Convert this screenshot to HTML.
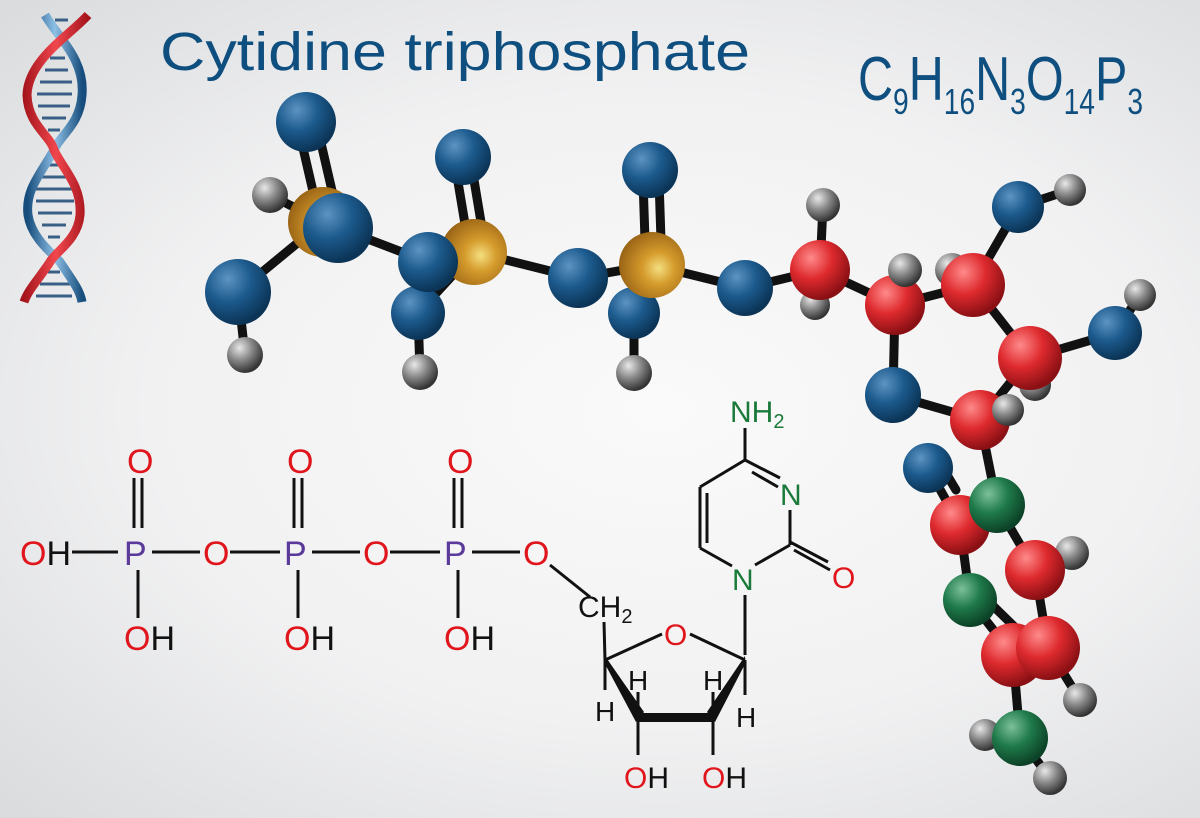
<!DOCTYPE html>
<html><head><meta charset="utf-8"><style>
html,body{margin:0;padding:0}
body{width:1200px;height:818px;overflow:hidden;background:radial-gradient(ellipse at 55% 50%,#fafafa 0%,#f1f1f2 55%,#d9dbdd 100%)}
svg{display:block}
.t{font-family:"Liberation Sans",sans-serif}
</style></head><body>
<svg width="1200" height="818" viewBox="0 0 1200 818" xmlns="http://www.w3.org/2000/svg">
<defs>
<radialGradient id="gb" cx="35%" cy="30%" r="70%"><stop offset="0" stop-color="#5d94c2"/><stop offset="0.5" stop-color="#1c5a8d"/><stop offset="1" stop-color="#0b3456"/></radialGradient>
<radialGradient id="go" cx="60%" cy="55%" r="70%"><stop offset="0" stop-color="#f4df80"/><stop offset="0.35" stop-color="#d59b2c"/><stop offset="1" stop-color="#8a5510"/></radialGradient>
<radialGradient id="gr" cx="35%" cy="30%" r="70%"><stop offset="0" stop-color="#ff8a8a"/><stop offset="0.5" stop-color="#de2a2e"/><stop offset="1" stop-color="#8a1014"/></radialGradient>
<radialGradient id="gg" cx="35%" cy="30%" r="70%"><stop offset="0" stop-color="#7cc09a"/><stop offset="0.5" stop-color="#1f7a4a"/><stop offset="1" stop-color="#0c4227"/></radialGradient>
<radialGradient id="gh" cx="35%" cy="30%" r="70%"><stop offset="0" stop-color="#e8e8e8"/><stop offset="0.5" stop-color="#888"/><stop offset="1" stop-color="#333"/></radialGradient>
<linearGradient id="dr" x1="0" x2="1"><stop offset="0" stop-color="#a5141c"/><stop offset="0.5" stop-color="#f0474d"/><stop offset="1" stop-color="#a5141c"/></linearGradient>
<linearGradient id="db" x1="0" x2="1"><stop offset="0" stop-color="#174d7c"/><stop offset="0.5" stop-color="#8ec0e6"/><stop offset="1" stop-color="#174d7c"/></linearGradient>
</defs>

<!-- DNA -->
<g stroke-width="3" stroke="#3a5f86">
<line x1="55" y1="20" x2="68" y2="20"/><line x1="50" y1="58" x2="65" y2="58"/><line x1="45" y1="70" x2="68" y2="70"/><line x1="40" y1="82" x2="72" y2="82"/><line x1="37" y1="94" x2="72" y2="94"/><line x1="38" y1="106" x2="70" y2="106"/><line x1="42" y1="118" x2="66" y2="118"/><line x1="48" y1="130" x2="60" y2="130"/>
<line x1="48" y1="165" x2="60" y2="165"/><line x1="40" y1="177" x2="70" y2="177"/><line x1="36" y1="189" x2="74" y2="189"/><line x1="36" y1="201" x2="74" y2="201"/><line x1="38" y1="213" x2="72" y2="213"/><line x1="42" y1="225" x2="66" y2="225"/><line x1="48" y1="237" x2="60" y2="237"/>
<line x1="48" y1="272" x2="60" y2="272"/><line x1="40" y1="284" x2="70" y2="284"/><line x1="36" y1="296" x2="72" y2="296"/>
</g>
<path d="M45,15 C60,40 85,60 82,95 C80,125 60,135 54,150 C40,175 25,190 28,215 C32,240 55,255 60,262 C72,280 80,290 82,302" fill="none" stroke="url(#db)" stroke-width="9"/>
<path d="M88,15 C70,35 28,60 27,95 C28,125 50,135 54,150 C62,168 82,185 80,215 C78,240 55,252 50,262 C38,280 28,290 24,302" fill="none" stroke="url(#dr)" stroke-width="9"/>

<!-- Title -->
<text x="160" y="70" class="t" font-size="54" fill="#0f4f80" textLength="590" lengthAdjust="spacingAndGlyphs">Cytidine triphosphate</text>
<text x="858" y="100" class="t" font-size="62" fill="#0f4f80" textLength="285" lengthAdjust="spacingAndGlyphs">C<tspan font-size="36" dy="14">9</tspan><tspan dy="-14">H</tspan><tspan font-size="36" dy="14">16</tspan><tspan dy="-14">N</tspan><tspan font-size="36" dy="14">3</tspan><tspan dy="-14">O</tspan><tspan font-size="36" dy="14">14</tspan><tspan dy="-14">P</tspan><tspan font-size="36" dy="14">3</tspan></text>

<!-- Bonds ball-and-stick -->
<g stroke="#111" stroke-width="9" stroke-linecap="round" fill="none">
<line x1="300" y1="135" x2="315" y2="200"/><line x1="318" y1="130" x2="333" y2="195"/>
<line x1="270" y1="195" x2="323" y2="222"/><line x1="238" y1="292" x2="323" y2="222"/><line x1="238" y1="292" x2="245" y2="355"/>
<line x1="323" y1="222" x2="428" y2="262"/><line x1="428" y1="262" x2="474" y2="252"/>
<line x1="456" y1="170" x2="466" y2="230"/><line x1="472" y1="168" x2="482" y2="228"/>
<line x1="474" y1="252" x2="418" y2="313"/><line x1="418" y1="313" x2="420" y2="372"/>
<line x1="474" y1="252" x2="578" y2="278"/><line x1="578" y1="278" x2="652" y2="265"/>
<line x1="643" y1="180" x2="645" y2="240"/><line x1="659" y1="180" x2="661" y2="240"/>
<line x1="652" y1="265" x2="634" y2="313"/><line x1="634" y1="313" x2="634" y2="373"/>
<line x1="652" y1="265" x2="745" y2="288"/><line x1="745" y1="288" x2="820" y2="270"/>
<line x1="820" y1="270" x2="823" y2="205"/><line x1="820" y1="270" x2="815" y2="305"/><line x1="820" y1="270" x2="895" y2="305"/>
<line x1="895" y1="305" x2="905" y2="270"/><line x1="895" y1="305" x2="893" y2="395"/><line x1="893" y1="395" x2="980" y2="420"/>
<line x1="895" y1="305" x2="973" y2="285"/><line x1="973" y1="285" x2="952" y2="270"/><line x1="973" y1="285" x2="1018" y2="207"/><line x1="1018" y1="207" x2="1070" y2="190"/>
<line x1="973" y1="285" x2="1030" y2="358"/><line x1="1030" y1="358" x2="1115" y2="333"/><line x1="1115" y1="333" x2="1140" y2="295"/>
<line x1="1030" y1="358" x2="1035" y2="385"/><line x1="1030" y1="358" x2="980" y2="420"/><line x1="980" y1="420" x2="1008" y2="410"/>
<line x1="980" y1="420" x2="997" y2="505"/><line x1="997" y1="505" x2="960" y2="525"/><line x1="960" y1="525" x2="928" y2="468"/>
<line x1="944" y1="470" x2="956" y2="490"/>
<line x1="997" y1="505" x2="1035" y2="570"/><line x1="1035" y1="570" x2="1072" y2="553"/><line x1="960" y1="525" x2="970" y2="600"/>
<line x1="970" y1="600" x2="1013" y2="655"/><line x1="985" y1="598" x2="1028" y2="640"/><line x1="1035" y1="570" x2="1048" y2="648"/>
<line x1="1048" y1="648" x2="1080" y2="700"/><line x1="1013" y1="655" x2="1020" y2="738"/><line x1="1020" y1="738" x2="985" y2="735"/><line x1="1020" y1="738" x2="1050" y2="778"/>
</g>

<!-- Atoms -->
<g>
<circle cx="270" cy="195" r="18" fill="url(#gh)"/>
<circle cx="306" cy="122" r="30" fill="url(#gb)"/>
<circle cx="323" cy="222" r="35" fill="url(#go)"/>
<circle cx="338" cy="228" r="35" fill="url(#gb)"/>
<circle cx="245" cy="355" r="18" fill="url(#gh)"/>
<circle cx="238" cy="292" r="33" fill="url(#gb)"/>
<circle cx="463" cy="157" r="28" fill="url(#gb)"/>
<circle cx="420" cy="372" r="18" fill="url(#gh)"/>
<circle cx="418" cy="313" r="27" fill="url(#gb)"/>
<circle cx="474" cy="252" r="33" fill="url(#go)"/>
<circle cx="428" cy="262" r="30" fill="url(#gb)"/>
<circle cx="578" cy="278" r="30" fill="url(#gb)"/>
<circle cx="650" cy="170" r="28" fill="url(#gb)"/>
<circle cx="634" cy="373" r="18" fill="url(#gh)"/>
<circle cx="634" cy="313" r="26" fill="url(#gb)"/>
<circle cx="652" cy="265" r="33" fill="url(#go)"/>
<circle cx="745" cy="288" r="28" fill="url(#gb)"/>
<circle cx="823" cy="205" r="17" fill="url(#gh)"/>
<circle cx="815" cy="305" r="15" fill="url(#gh)"/>
<circle cx="820" cy="270" r="30" fill="url(#gr)"/>
<circle cx="893" cy="395" r="28" fill="url(#gb)"/>
<circle cx="895" cy="305" r="30" fill="url(#gr)"/>
<circle cx="905" cy="270" r="17" fill="url(#gh)"/>
<circle cx="952" cy="270" r="17" fill="url(#gh)"/>
<circle cx="1070" cy="190" r="16" fill="url(#gh)"/>
<circle cx="1018" cy="207" r="26" fill="url(#gb)"/>
<circle cx="973" cy="285" r="32" fill="url(#gr)"/>
<circle cx="1140" cy="295" r="16" fill="url(#gh)"/>
<circle cx="1115" cy="333" r="27" fill="url(#gb)"/>
<circle cx="1035" cy="385" r="16" fill="url(#gh)"/>
<circle cx="1030" cy="358" r="32" fill="url(#gr)"/>
<circle cx="980" cy="420" r="30" fill="url(#gr)"/>
<circle cx="1008" cy="410" r="16" fill="url(#gh)"/>
<circle cx="928" cy="468" r="25" fill="url(#gb)"/>
<circle cx="960" cy="525" r="30" fill="url(#gr)"/>
<circle cx="997" cy="505" r="28" fill="url(#gg)"/>
<circle cx="1072" cy="553" r="17" fill="url(#gh)"/>
<circle cx="1035" cy="570" r="30" fill="url(#gr)"/>
<circle cx="970" cy="600" r="27" fill="url(#gg)"/>
<circle cx="1013" cy="655" r="32" fill="url(#gr)"/>
<circle cx="1048" cy="648" r="32" fill="url(#gr)"/>
<circle cx="1080" cy="700" r="17" fill="url(#gh)"/>
<circle cx="985" cy="735" r="16" fill="url(#gh)"/>
<circle cx="1020" cy="738" r="28" fill="url(#gg)"/>
<circle cx="1050" cy="778" r="17" fill="url(#gh)"/>
</g>

<!-- Structural formula -->
<g stroke="#111" stroke-width="3" fill="none">
<line x1="72" y1="552" x2="118" y2="552"/><line x1="152" y1="552" x2="200" y2="552"/><line x1="230" y1="552" x2="280" y2="552"/>
<line x1="312" y1="552" x2="360" y2="552"/><line x1="390" y1="552" x2="440" y2="552"/><line x1="472" y1="552" x2="520" y2="552"/>
<line x1="134" y1="478" x2="134" y2="528"/><line x1="142" y1="478" x2="142" y2="528"/><line x1="138" y1="570" x2="138" y2="618"/>
<line x1="294" y1="478" x2="294" y2="528"/><line x1="302" y1="478" x2="302" y2="528"/><line x1="298" y1="570" x2="298" y2="618"/>
<line x1="454" y1="478" x2="454" y2="528"/><line x1="462" y1="478" x2="462" y2="528"/><line x1="458" y1="570" x2="458" y2="618"/>
<line x1="550" y1="565" x2="590" y2="597"/>
<line x1="604" y1="622" x2="605" y2="660"/>
<line x1="605" y1="660" x2="662" y2="634"/><line x1="690" y1="634" x2="745" y2="660"/>
<line x1="605" y1="660" x2="605" y2="690"/><line x1="745" y1="660" x2="745" y2="695"/>
<line x1="638" y1="717" x2="638" y2="755"/><line x1="713" y1="717" x2="713" y2="755"/>
<line x1="638" y1="717" x2="638" y2="692"/><line x1="713" y1="717" x2="713" y2="692"/>
<line x1="745" y1="655" x2="745" y2="595"/>
<line x1="755" y1="565" x2="790" y2="545"/><line x1="790" y1="545" x2="790" y2="510"/><line x1="780" y1="478" x2="745" y2="460"/>
<line x1="745" y1="460" x2="700" y2="487"/><line x1="700" y1="487" x2="700" y2="548"/><line x1="707" y1="493" x2="707" y2="543"/>
<line x1="700" y1="548" x2="732" y2="566"/><line x1="752" y1="472" x2="778" y2="487"/>
<line x1="745" y1="460" x2="745" y2="428"/>
<line x1="790" y1="542" x2="828" y2="562"/><line x1="794" y1="550" x2="830" y2="570"/>
</g>
<polygon points="605,656 605,664 636,722 644,712" fill="#111"/>
<polygon points="745,656 745,664 715,722 707,712" fill="#111"/>
<rect x="638" y="713" width="75" height="9" fill="#111"/>

<g class="t" font-size="34">
<text x="20" y="565" fill="#e0161c">O<tspan fill="#111">H</tspan></text>
<text x="124" y="565" fill="#5a3a9a">P</text>
<text x="203" y="565" fill="#e0161c">O</text>
<text x="284" y="565" fill="#5a3a9a">P</text>
<text x="363" y="565" fill="#e0161c">O</text>
<text x="444" y="565" fill="#5a3a9a">P</text>
<text x="523" y="565" fill="#e0161c">O</text>
<text x="127" y="473" fill="#e0161c">O</text><text x="287" y="473" fill="#e0161c">O</text><text x="447" y="473" fill="#e0161c">O</text>
<text x="124" y="650" fill="#e0161c">O<tspan fill="#111">H</tspan></text>
<text x="284" y="650" fill="#e0161c">O<tspan fill="#111">H</tspan></text>
<text x="444" y="650" fill="#e0161c">O<tspan fill="#111">H</tspan></text>
<text x="578" y="617" fill="#111" font-size="30">CH<tspan font-size="20" dy="6">2</tspan></text>
<text x="664" y="645" fill="#e0161c" font-size="30">O</text>
<text x="595" y="721" fill="#111" font-size="28">H</text>
<text x="628" y="690" fill="#111" font-size="28">H</text>
<text x="703" y="690" fill="#111" font-size="28">H</text>
<text x="736" y="727" fill="#111" font-size="28">H</text>
<text x="624" y="788" fill="#e0161c" font-size="30">O<tspan fill="#111">H</tspan></text>
<text x="702" y="788" fill="#e0161c" font-size="30">O<tspan fill="#111">H</tspan></text>
<text x="732" y="590" fill="#1a7a3a" font-size="30">N</text>
<text x="780" y="505" fill="#1a7a3a" font-size="30">N</text>
<text x="832" y="588" fill="#e0161c" font-size="30">O</text>
<text x="730" y="422" fill="#1a7a3a" font-size="30">NH<tspan font-size="20" dy="6">2</tspan></text>
</g>
</svg>
</body></html>
